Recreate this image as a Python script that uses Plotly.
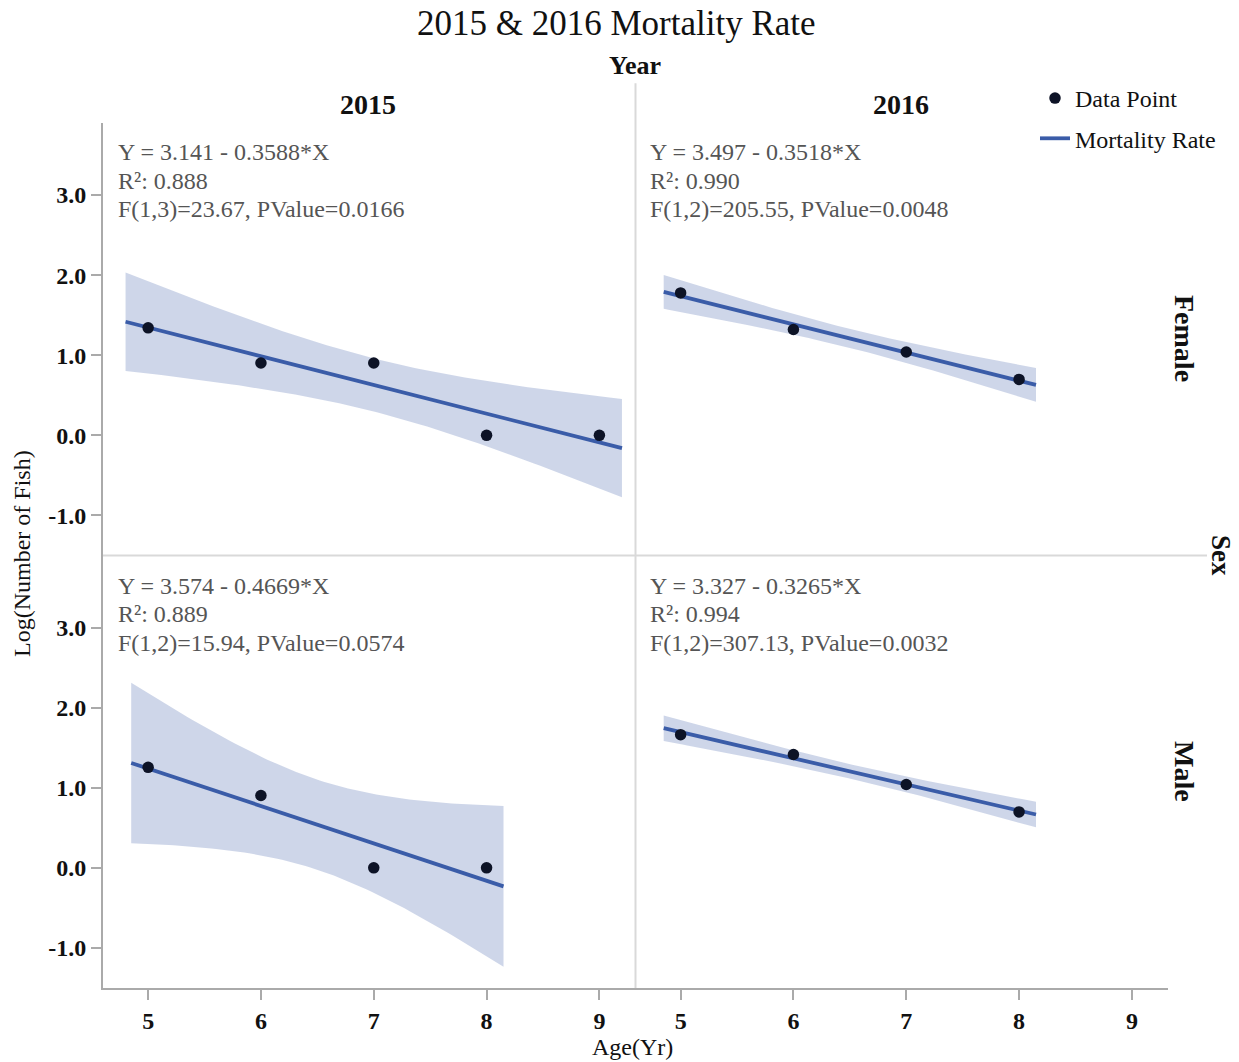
import numpy as np
import plotly.graph_objects as go
from plotly.subplots import make_subplots

# Log10 of fish counts by age, per sex (rows) and year (columns)
ages_f2015 = [5, 6, 7, 8, 9]
logn_f2015 = [1.3424, 0.9031, 0.9031, 0.0, 0.0]
ages_f2016 = [5, 6, 7, 8]
logn_f2016 = [1.7782, 1.3222, 1.0414, 0.6990]
ages_m2015 = [5, 6, 7, 8]
logn_m2015 = [1.2553, 0.9031, 0.0, 0.0]
ages_m2016 = [5, 6, 7, 8]
logn_m2016 = [1.6628, 1.4150, 1.0414, 0.6990]

# Fitted regression (intercept, slope) and summary text per panel
intercepts = [3.141, 3.497, 3.574, 3.327]
slopes = [-0.3588, -0.3518, -0.4669, -0.3265]
r_squared = ["0.888", "0.990", "0.889", "0.994"]
f_tests = ["F(1,3)=23.67, PValue=0.0166", "F(1,2)=205.55, PValue=0.0048",
           "F(1,2)=15.94, PValue=0.0574", "F(1,2)=307.13, PValue=0.0032"]
# two-sided 95% t critical values for df = 1..5
t_crit = {1: 12.706, 2: 4.303, 3: 3.182, 4: 2.776, 5: 2.571}

years = ["2015", "2016"]
sexes = ["Female", "Male"]
x_ticks = [5, 6, 7, 8, 9]
y_ticks = [-1.0, 0.0, 1.0, 2.0, 3.0]
y_tick_text = ["-1.0", "0.0", "1.0", "2.0", "3.0"]

panels = [
    (1, 1, ages_f2015, logn_f2015),
    (1, 2, ages_f2016, logn_f2016),
    (2, 1, ages_m2015, logn_m2015),
    (2, 2, ages_m2016, logn_m2016),
]

SERIF = "Liberation Serif, Times New Roman, serif"
LINE_COLOR = "#3a5ca8"
BAND_COLOR = "rgba(58,92,168,0.25)"
POINT_COLOR = "#0d1326"
AXIS_COLOR = "#aaaaaa"
SEP_COLOR = "#d9d9d9"

fig = make_subplots(rows=2, cols=2, horizontal_spacing=0, vertical_spacing=0)

for i, (r, c, xs, ys) in enumerate(panels):
    xs = np.asarray(xs, float)
    ys = np.asarray(ys, float)
    n = len(xs)
    b0, b1 = intercepts[i], slopes[i]
    resid = ys - (b0 + b1 * xs)
    s = np.sqrt(np.sum(resid ** 2) / (n - 2))
    xbar = xs.mean()
    sxx = np.sum((xs - xbar) ** 2)
    pad = 0.05 * (xs.max() - xs.min())
    grid = np.linspace(xs.min() - pad, xs.max() + pad, 80)
    fit = b0 + b1 * grid
    half = t_crit[n - 2] * s * np.sqrt(1.0 / n + (grid - xbar) ** 2 / sxx)

    fig.add_trace(go.Scatter(
        x=np.concatenate([grid, grid[::-1]]),
        y=np.concatenate([fit + half, (fit - half)[::-1]]),
        fill="toself", fillcolor=BAND_COLOR, line=dict(width=0),
        mode="lines", hoverinfo="skip", showlegend=False), row=r, col=c)
    fig.add_trace(go.Scatter(
        x=grid, y=fit, mode="lines", line=dict(color=LINE_COLOR, width=3.8),
        name="Mortality Rate", legendgroup="fit", legendrank=2,
        showlegend=(i == 0)), row=r, col=c)
    fig.add_trace(go.Scatter(
        x=xs, y=ys, mode="markers", marker=dict(color=POINT_COLOR, size=11.5),
        name="Data Point", legendgroup="pts", legendrank=1,
        showlegend=(i == 0)), row=r, col=c)

    sign = "-" if b1 < 0 else "+"
    lines = [f"Y = {b0:.3f} {sign} {abs(b1):.4f}*X", f"R²: {r_squared[i]}", f_tests[i]]
    top = 0.967 if r == 1 else 0.965
    for k, txt in enumerate(lines):
        fig.add_annotation(
            text=txt, xref=f"x{i + 1 if i else ''} domain", yref=f"y{i + 1 if i else ''} domain",
            x=0.024, y=top - k * 0.066, xanchor="left", yanchor="top",
            showarrow=False, font=dict(family=SERIF, size=24, color="#555555"))

for r in (1, 2):
    for c in (1, 2):
        fig.update_xaxes(
            range=[4.6, 9.32], tickvals=x_ticks, showgrid=False, zeroline=False,
            showline=(r == 2), linecolor=AXIS_COLOR, linewidth=2,
            ticks="outside" if r == 2 else "", ticklen=10, tickwidth=2, tickcolor=AXIS_COLOR,
            showticklabels=(r == 2),
            tickfont=dict(family=SERIF, size=24, color="#111111", weight="bold"),
            row=r, col=c)
        fig.update_yaxes(
            range=[-1.5, 3.9], tickvals=y_ticks, ticktext=y_tick_text, showgrid=False,
            zeroline=False, showline=(c == 1), linecolor=AXIS_COLOR, linewidth=2,
            ticks="outside" if c == 1 else "", ticklen=10, tickwidth=2, tickcolor=AXIS_COLOR,
            showticklabels=(c == 1),
            tickfont=dict(family=SERIF, size=24, color="#111111", weight="bold"),
            row=r, col=c)

# facet separators
fig.add_shape(type="line", xref="paper", yref="paper", x0=0.5, x1=0.5, y0=0, y1=1.046,
              line=dict(color=SEP_COLOR, width=2))
fig.add_shape(type="line", xref="paper", yref="paper", x0=0, x1=1.0366, y0=0.5, y1=0.5,
              line=dict(color=SEP_COLOR, width=2))

# headers and axis titles
def label(text, x, y, size, bold=False, angle=0, color="#111111"):
    fig.add_annotation(text=f"<b>{text}</b>" if bold else text, xref="paper", yref="paper",
                       x=x, y=y, xanchor="center", yanchor="middle", textangle=angle,
                       showarrow=False, font=dict(family=SERIF, size=size, color=color))

W, H, L, T = 1239, 1062, 103, 123
PW, PH = 1065, 865
px = lambda v: (v - L) / PW
py = lambda v: (T + PH - v) / PH

label("2015 &amp; 2016 Mortality Rate", px(616), py(24), 35)
label("Year", px(635), py(66), 26, bold=True)
label(years[0], px(368), py(104), 28, bold=True)
label(years[1], px(901), py(104), 28, bold=True)
label(sexes[0], px(1185), py(338), 28, bold=True, angle=90)
label(sexes[1], px(1185), py(771), 28, bold=True, angle=90)
label("Sex", px(1221), py(555), 27, bold=True, angle=90)
label("Log(Number of Fish)", px(22), py(554), 24, angle=-90)
label("Age(Yr)", px(632), py(1047), 24)

fig.update_layout(
    width=W, height=H,
    margin=dict(l=L, r=W - L - PW, t=T, b=H - T - PH),
    plot_bgcolor="white", paper_bgcolor="white",
    font=dict(family=SERIF, color="#111111"),
    legend=dict(x=px(1035), y=py(76), xanchor="left", yanchor="top",
                font=dict(family=SERIF, size=24, color="#111111"),
                traceorder="grouped", tracegroupgap=6, bgcolor="rgba(0,0,0,0)"),
)

fig.write_html("out.html")
